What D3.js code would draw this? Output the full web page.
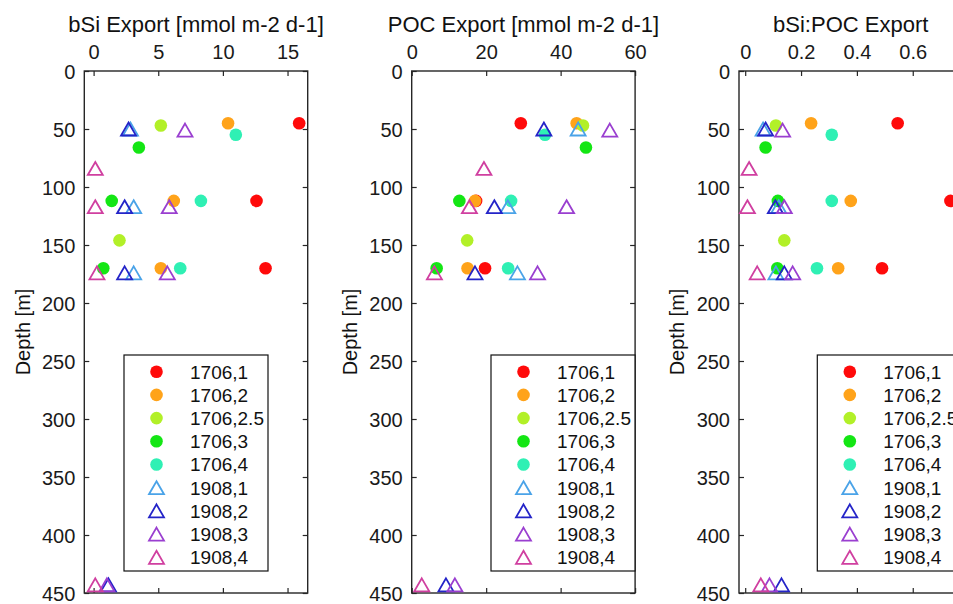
<!DOCTYPE html>
<html>
<head>
<meta charset="utf-8">
<script src="https://cdn.jsdelivr.net/npm/d3@7"></script>
<style>
  html, body { margin: 0; padding: 0; background: #fff; }
  svg { display: block; font-family: "Liberation Sans", Arial, Helvetica, sans-serif; }
</style>
</head>
<body>
<svg id="chart" width="953" height="604"></svg>
<script>
// Sediment-trap export profiles, two cruises (1706 and 1908), by station.
const seriesLabels = ["1706,1", "1706,2", "1706,2.5", "1706,3", "1706,4",
                      "1908,1", "1908,2", "1908,3", "1908,4"];
const seriesColors = ["#ff0a0a", "#ffa31a", "#b2f028", "#14e614", "#2ff0b4",
                      "#4aa3e8", "#2424c8", "#9a3fd0", "#d03fa0"];
const seriesShapes = ["circle", "circle", "circle", "circle", "circle",
                      "triangle", "triangle", "triangle", "triangle"];

// trap depths [m]
const seriesDepths = [
  [45, 112, 170],
  [45, 112, 170],
  [47, 146],
  [66, 112, 170],
  [55, 112, 170],
  [50, 117, 174],
  [50, 117, 174, 443],
  [51, 117, 174, 443],
  [84, 117, 174, 443]
];

// bSi export [mmol m-2 d-1]
const bsiExport = [
  [15.9, 12.6, 13.3],
  [10.4, 6.2, 5.2],
  [5.2, 2.0],
  [3.5, 1.4, 0.75],
  [11.0, 8.3, 6.7],
  [2.85, 3.1, 3.1],
  [2.7, 2.4, 2.4, 1.15],
  [7.07, 5.85, 5.7, 1.03],
  [0.13, 0.13, 0.26, 0.13]
];

// POC export [mmol m-2 d-1]
const pocExport = [
  [29.3, 17.3, 19.7],
  [44.3, 17.0, 15.0],
  [46.0, 14.9],
  [46.8, 12.8, 6.7],
  [35.8, 26.7, 25.9],
  [44.7, 25.8, 28.4],
  [35.5, 22.2, 17.0, 9.2],
  [53.2, 41.6, 33.8, 11.6],
  [19.4, 15.5, 6.1, 2.7]
];

// bSi:POC export ratio
const bsiPocRatio = [
  [0.546, 0.735, 0.49],
  [0.236, 0.378, 0.333],
  [0.11, 0.14],
  [0.073, 0.117, 0.115],
  [0.31, 0.31, 0.257],
  [0.064, 0.12, 0.11],
  [0.073, 0.108, 0.14, 0.13],
  [0.134, 0.14, 0.17, 0.087],
  [0.014, 0.008, 0.043, 0.056]
];

const depthTicks = [0, 50, 100, 150, 200, 250, 300, 350, 400, 450];
const bsiTicks = [0, 5, 10, 15];
const pocTicks = [0, 20, 40, 60];
const ratioTicks = [0, 0.2, 0.4, 0.6];

const panelTitles = ["bSi Export [mmol m-2 d-1]", "POC Export [mmol m-2 d-1]", "bSi:POC Export"];

// ---- layout ----
const svg = d3.select("#chart");
svg.append("rect").attr("width", 953).attr("height", 604).attr("fill", "#fff");

const plotTop = 71, plotBottom = 593, plotWidth = 223.4;
const axisColor = "#262626";
const font = "\"Liberation Sans\", Arial, Helvetica, sans-serif";

const panels = [
  { title: panelTitles[0], values: bsiExport, domain: [-0.72, 16.56], ticks: bsiTicks, left: 84.3, legendLeft: 124, fmt: d3.format("d") },
  { title: panelTitles[1], values: pocExport, domain: [0, 60], ticks: pocTicks, left: 411.7, legendLeft: 491, fmt: d3.format("d") },
  { title: panelTitles[2], values: bsiPocRatio, domain: [-0.0222, 0.7778], ticks: ratioTicks, left: 739, legendLeft: 817.3, fmt: d => d === 0 ? "0" : d3.format(".1f")(d) }
];

const y = d3.scaleLinear().domain([0, 450]).range([plotTop, plotBottom]);

function trianglePath(w, h) {
  return `M0,${-h / 2}L${w / 2},${h / 2}L${-w / 2},${h / 2}Z`;
}

function drawMarker(g, shape, color, cx, cy) {
  if (shape === "circle") {
    g.append("circle").attr("cx", cx).attr("cy", cy).attr("r", 6.3)
      .attr("fill", color).attr("stroke", "none");
  } else {
    g.append("path").attr("d", trianglePath(15, 13))
      .attr("transform", `translate(${cx},${cy})`)
      .attr("fill", "none").attr("stroke", color).attr("stroke-width", 1.8)
      .attr("stroke-linejoin", "miter");
  }
}

panels.forEach(p => {
  const x = d3.scaleLinear().domain(p.domain).range([p.left, p.left + plotWidth]);
  const g = svg.append("g");

  // frame
  g.append("rect")
    .attr("x", p.left).attr("y", plotTop)
    .attr("width", plotWidth).attr("height", plotBottom - plotTop)
    .attr("fill", "none").attr("stroke", axisColor).attr("stroke-width", 1.4);

  // top axis with labels, inward ticks
  const top = g.append("g").attr("transform", `translate(0,${plotTop})`)
    .call(d3.axisTop(x).tickValues(p.ticks).tickFormat(p.fmt)
      .tickSizeInner(-5).tickSizeOuter(0).tickPadding(12.5));
  // bottom mirrored ticks
  const bottom = g.append("g").attr("transform", `translate(0,${plotBottom})`)
    .call(d3.axisBottom(x).tickValues(p.ticks).tickFormat("")
      .tickSizeInner(-5).tickSizeOuter(0));
  // left axis with labels
  const left = g.append("g").attr("transform", `translate(${p.left},0)`)
    .call(d3.axisLeft(y).tickValues(depthTicks)
      .tickSizeInner(-5).tickSizeOuter(0).tickPadding(9));
  // right mirrored ticks
  const right = g.append("g").attr("transform", `translate(${p.left + plotWidth},0)`)
    .call(d3.axisRight(y).tickValues(depthTicks).tickFormat("")
      .tickSizeInner(-5).tickSizeOuter(0));

  [top, bottom, left, right].forEach(a => {
    a.select(".domain").remove();
    a.selectAll(".tick line").attr("stroke", axisColor).attr("stroke-width", 1.2);
    a.selectAll("text").attr("fill", "#1a1a1a").attr("font-size", 20).attr("font-family", font);
  });
  left.selectAll("text").attr("dy", "0.36em");

  // title
  g.append("text")
    .attr("x", p.left + plotWidth / 2).attr("y", 31.5)
    .attr("text-anchor", "middle").attr("font-size", 22).attr("fill", "#111")
    .text(p.title);

  // y label
  g.append("text")
    .attr("transform", `translate(${p.left - 62},${(plotTop + plotBottom) / 2}) rotate(-90)`)
    .attr("text-anchor", "middle").attr("dy", "0.36em")
    .attr("font-size", 20).attr("fill", "#111")
    .text("Depth [m]");

  // data markers
  const marks = g.append("g");
  seriesLabels.forEach((name, i) => {
    p.values[i].forEach((v, j) => {
      drawMarker(marks, seriesShapes[i], seriesColors[i], x(v), y(seriesDepths[i][j]));
    });
  });

  // legend
  const lg = g.append("g").attr("transform", `translate(${p.legendLeft},355)`);
  lg.append("rect").attr("width", 144).attr("height", 216)
    .attr("fill", "#fff").attr("stroke", "#111").attr("stroke-width", 1.2);
  seriesLabels.forEach((name, i) => {
    const ry = 16.7 + i * 23.2;
    drawMarker(lg, seriesShapes[i], seriesColors[i], 32.5, ry);
    lg.append("text").attr("x", 66).attr("y", ry).attr("dy", "0.36em")
      .attr("font-size", 19).attr("fill", "#111").text(name);
  });
});
</script>
</body>
</html>
